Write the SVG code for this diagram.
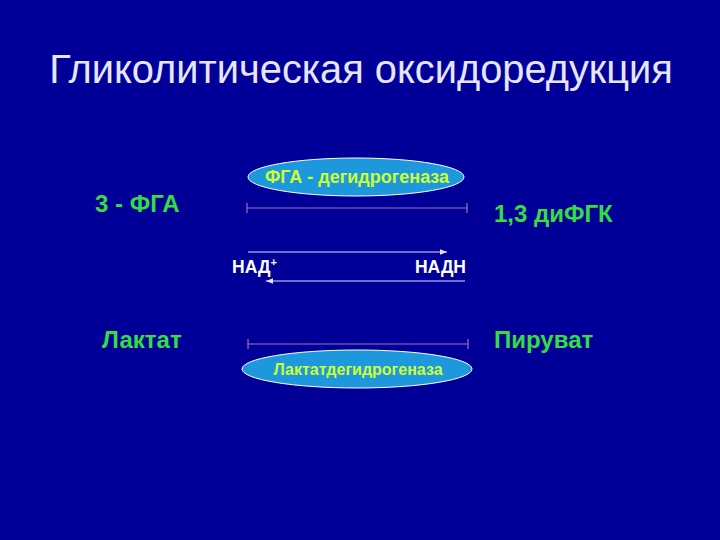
<svg xmlns="http://www.w3.org/2000/svg" width="720" height="540" viewBox="0 0 720 540">
<defs>
<style>
.title{font-family:"Liberation Sans",Arial,sans-serif;font-size:39.8px;fill:#E6E6FF}
.lbl{font-family:"Liberation Sans",Arial,sans-serif;font-weight:bold;font-size:24px;fill:#33DD44}
.enz{font-family:"Liberation Sans",Arial,sans-serif;font-weight:bold;fill:#CCFF33;text-anchor:middle}
.cof{font-family:"Liberation Sans",Arial,sans-serif;font-weight:bold;font-size:17.5px;fill:#FFFFFF}
.ell{fill:#1E98DC;stroke:#FFFFFF;stroke-width:1}
.bar{stroke:#A070C0;stroke-width:1.2;fill:none}
.arr{stroke:#E0E0FF;stroke-width:1.2;fill:none}
</style>
<marker id="ah" viewBox="0 0 10 10" refX="10" refY="5" markerWidth="7" markerHeight="7" orient="auto-start-reverse" markerUnits="userSpaceOnUse">
<path d="M0,1 L10,5 L0,9 z" fill="#E0E0FF"/>
</marker>
</defs>
<rect width="720" height="540" fill="#000099"/>
<text class="title" x="361" y="83" text-anchor="middle">Гликолитическая оксидоредукция</text>
<g id="pga">
<text class="lbl" x="95" y="212">3 - ФГА</text>
</g>
<g id="dpg">
<text class="lbl" x="494" y="222">1,3 диФГК</text>
</g>
<g id="lactate">
<text class="lbl" x="102" y="348">Лактат</text>
</g>
<g id="pyruvate">
<text class="lbl" x="494" y="348">Пируват</text>
</g>
<g id="enz1">
<ellipse class="ell" cx="356" cy="177" rx="108" ry="19"/>
<text class="enz" x="357" y="183" font-size="18">ФГА - дегидрогеназа</text>
</g>
<g id="enz2">
<ellipse class="ell" cx="357" cy="369" rx="115" ry="19"/>
<text class="enz" x="358" y="375" font-size="16">Лактатдегидрогеназа</text>
</g>
<g id="nad">
<text class="cof" x="232" y="273">НАД<tspan font-size="11" dy="-7">+</tspan></text>
</g>
<g id="nadh">
<text class="cof" x="466" y="273" text-anchor="end">НАДН</text>
</g>
<g id="connectors">
<path class="bar" d="M247,208 H467 M247,203 V213 M467,203 V213"/>
<path class="bar" d="M248,344 H468 M248,339 V349 M468,339 V349"/>
<path class="arr" d="M248,252 H447" marker-end="url(#ah)"/>
<path class="arr" d="M465,281 H266" marker-end="url(#ah)"/>
</g>
</svg>
